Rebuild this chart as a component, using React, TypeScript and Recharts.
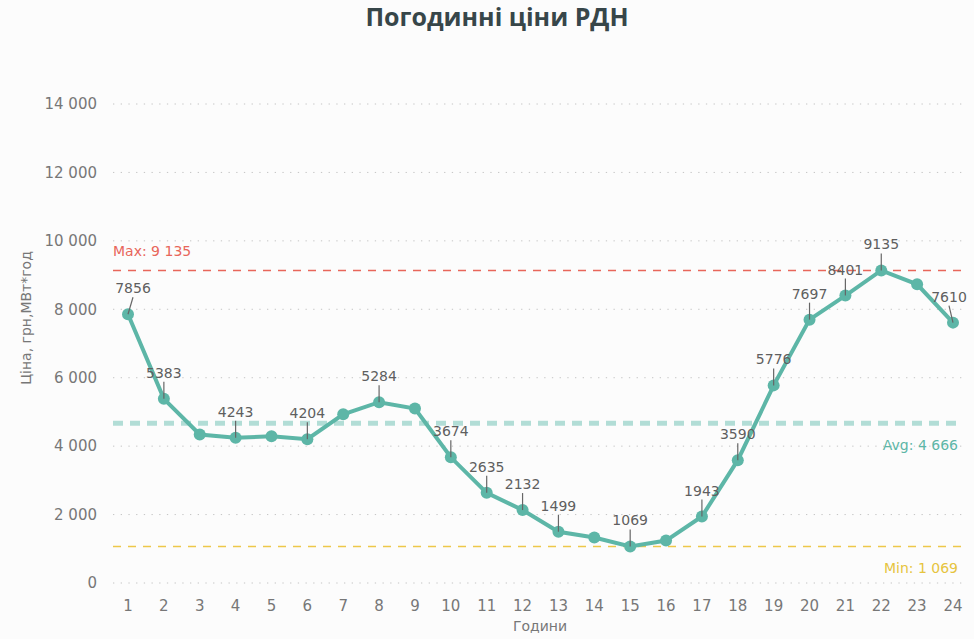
import { CartesianGrid, Line, LineChart, ReferenceLine, XAxis, YAxis } from "recharts";

const hours = [1, 2, 3, 4, 5, 6, 7, 8, 9, 10, 11, 12, 13, 14, 15, 16, 17, 18, 19, 20, 21, 22, 23, 24];
const prices = [
  7856, 5383, 4340, 4243, 4290, 4204, 4930, 5284, 5100, 3674, 2635, 2132,
  1499, 1330, 1069, 1240, 1943, 3590, 5776, 7697, 8401, 9135, 8730, 7610,
];
const labeledHours = [1, 2, 4, 6, 8, 10, 11, 12, 13, 15, 17, 18, 19, 20, 21, 22, 24];
const yTicks = [0, 2000, 4000, 6000, 8000, 10000, 12000, 14000];
const maxPrice = 9135;
const avgPrice = 4666;
const minPrice = 1069;

const data = hours.map((h, i) => ({ hour: h, price: prices[i] }));

const FONT = "'DejaVu Sans', sans-serif";
const TEAL = "#5DB6A7";
const fmt = (v: number) => String(v).replace(/\B(?=(\d{3})+(?!\d))/g, " ");

function PointLabel(props: any) {
  const { x, y, index, value } = props;
  if (!labeledHours.includes(hours[index])) return null;
  const dx = index === 0 ? 5 : index === hours.length - 1 ? -4 : 0;
  return (
    <g>
      <line x1={x} y1={y} x2={x + dx} y2={y - 17} stroke="#666" strokeWidth={1.2} />
      <text x={x + dx} y={y - 21} textAnchor="middle" fill="#5f5f5f" fontSize={14} fontFamily={FONT}>
        {value}
      </text>
    </g>
  );
}

const refLabel = (text: string, color: string, side: "left" | "right") => (p: any) => {
  const vb = p.viewBox;
  if (side === "left") {
    return (
      <text x={vb.x} y={vb.y - 14} fill={color} fontSize={14} fontFamily={FONT}>
        {text}
      </text>
    );
  }
  return (
    <text x={vb.x + vb.width - 5} y={vb.y + 27} textAnchor="end" fill={color} fontSize={14} fontFamily={FONT}>
      {text}
    </text>
  );
};

export default function App() {
  return (
    <div style={{ position: "absolute", left: 0, top: 0, width: 974, height: 639, background: "#fcfcfc" }}>
      <div
        style={{
          position: "absolute",
          top: 0,
          width: 974,
          textAlign: "center",
          fontFamily: "'Open Sans', sans-serif",
          fontWeight: 700,
          fontSize: 25,
          color: "#374649",
          lineHeight: "32px",
          paddingLeft: 10,
        }}
      >
        Погодинні ціни РДН
      </div>
      <LineChart width={974} height={639} data={data} margin={{ top: 104, right: 11, bottom: 0, left: 0 }}>
        <CartesianGrid vertical={false} stroke="#c4c4c4" strokeDasharray="1.3 6.4" />
        <XAxis
          dataKey="hour"
          axisLine={false}
          tickLine={false}
          tickSize={0}
          tickMargin={17}
          height={56}
          padding={{ left: 15, right: 10 }}
          tick={{ fill: "#777", fontSize: 15, fontFamily: FONT }}
          label={(p: any) => (
            <text x={540} y={631} textAnchor="middle" fill="#777" fontSize={14} fontFamily={FONT}>
              Години
            </text>
          )}
        />
        <YAxis
          domain={[0, 14000]}
          ticks={yTicks}
          width={113}
          axisLine={false}
          tickLine={false}
          tickSize={0}
          tickMargin={16}
          tickFormatter={fmt}
          tick={{ fill: "#777", fontSize: 15, fontFamily: FONT }}
          label={(p: any) => (
            <text
              x={31}
              y={318}
              transform="rotate(-90 31 318)"
              textAnchor="middle"
              fill="#777"
              fontSize={14}
              fontFamily={FONT}
            >
              Ціна, грн,МВт*год
            </text>
          )}
        />
        <ReferenceLine
          y={maxPrice}
          stroke="#E8665A"
          strokeWidth={1.5}
          strokeDasharray="8 7"
          label={refLabel(`Max: ${fmt(maxPrice)}`, "#E8665A", "left")}
        />
        <ReferenceLine
          y={avgPrice}
          stroke="#B2DDD6"
          strokeWidth={5}
          strokeDasharray="10 7"
          label={refLabel(`Avg: ${fmt(avgPrice)}`, TEAL, "right")}
        />
        <ReferenceLine
          y={minPrice}
          stroke="#EDC84A"
          strokeWidth={1.5}
          strokeDasharray="8 7"
          label={refLabel(`Min: ${fmt(minPrice)}`, "#E6C43E", "right")}
        />
        <Line
          dataKey="price"
          stroke={TEAL}
          strokeWidth={4}
          dot={{ r: 6, fill: TEAL, stroke: TEAL, strokeWidth: 0 }}
          label={<PointLabel />}
          isAnimationActive={false}
        />
      </LineChart>
    </div>
  );
}
